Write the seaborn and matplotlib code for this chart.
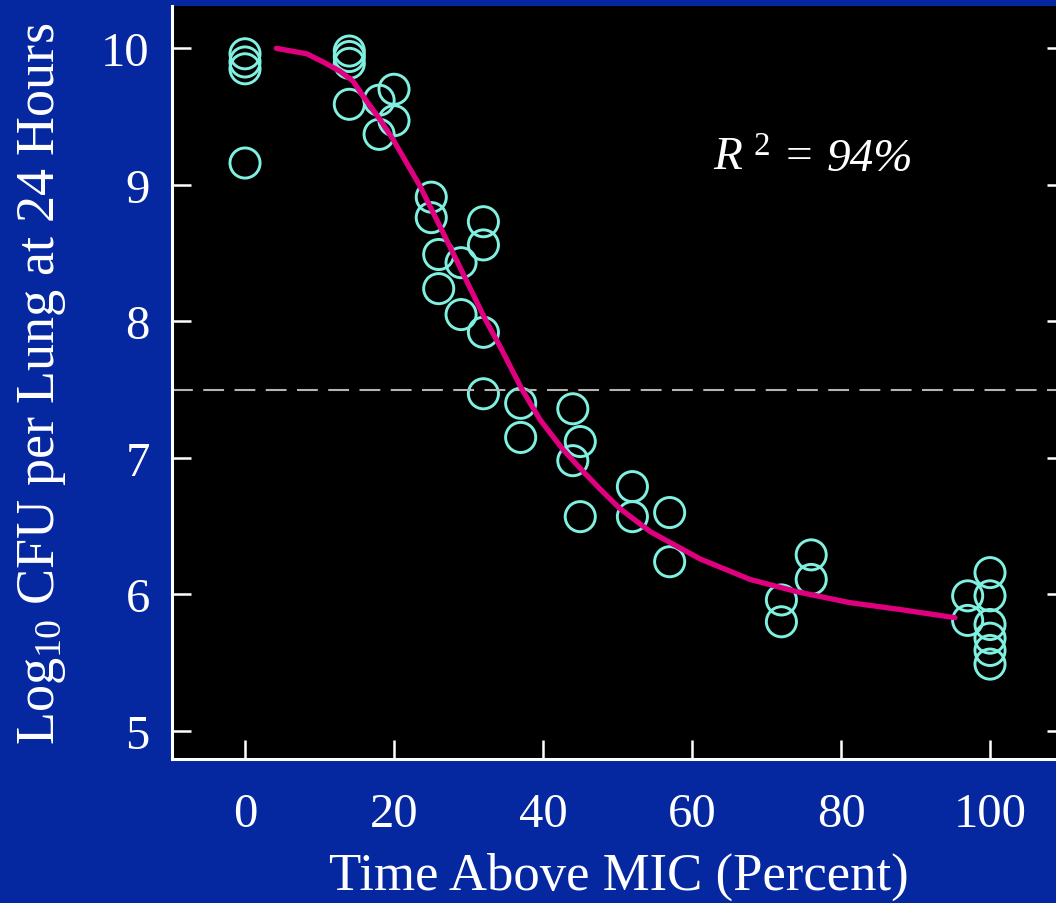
import numpy as np
import pandas as pd
import matplotlib
matplotlib.use("Agg")
import matplotlib.pyplot as plt
import seaborn as sns

# observed points
time_pct = [0, 0, 0, 0, 14, 14, 14, 14, 18, 18, 20, 20, 25, 25, 26, 26, 29, 29,
            32, 32, 32, 32, 37, 37, 44, 44, 45, 45, 52, 52, 57, 57, 72, 72, 76, 76,
            97, 97, 100, 100, 100, 100, 100, 100]
log_cfu = [9.96, 9.90, 9.85, 9.16, 9.98, 9.94, 9.89, 9.59, 9.62, 9.37, 9.70, 9.47,
           8.91, 8.76, 8.49, 8.24, 8.43, 8.05, 8.73, 8.56, 7.92, 7.47, 7.40, 7.15,
           7.36, 6.98, 7.12, 6.57, 6.79, 6.57, 6.60, 6.24, 5.96, 5.80, 6.29, 6.11,
           5.99, 5.81, 6.16, 5.99, 5.78, 5.68, 5.59, 5.49]

# fitted curve
fit_x = [4.2, 8.3, 10.5, 12.8, 14.5, 16.1, 18.1, 19.9, 23.5, 26.4, 29.8, 32.2, 34.2,
         37.2, 39.6, 42.7, 45.4, 47.7, 50.3, 54.4, 61.1, 67.8, 74.1, 81.2, 87.9, 95.3]
fit_y = [10.00, 9.96, 9.90, 9.83, 9.76, 9.63, 9.48, 9.33, 8.99, 8.67, 8.29, 8.02, 7.82,
         7.50, 7.28, 7.06, 6.90, 6.77, 6.63, 6.46, 6.26, 6.11, 6.02, 5.94, 5.89, 5.83]

threshold = 7.5
x_ticks = [0, 20, 40, 60, 80, 100]
y_ticks = [5, 6, 7, 8, 9, 10]

pts = pd.DataFrame({"time": time_pct, "cfu": log_cfu})
fit = pd.DataFrame({"time": fit_x, "cfu": fit_y})

sns.set_style("ticks")
plt.rcParams["font.family"] = ["Liberation Serif", "DejaVu Serif"]
plt.rcParams["mathtext.fontset"] = "custom"
plt.rcParams["mathtext.rm"] = "Liberation Serif"
plt.rcParams["mathtext.it"] = "Liberation Serif:italic"

bg = "#0528a0"
fig = plt.figure(figsize=(10.56, 9.04), dpi=100, facecolor=bg)
ax = fig.add_axes([172 / 1056, 144 / 904, 894 / 1056, 753 / 904])
ax.set_facecolor("black")

ax.axhline(threshold, color="#b4b4b4", lw=1.5, dashes=(10, 5))
sns.lineplot(data=fit, x="time", y="cfu", ax=ax, color="#e0007f", lw=3.8, sort=False)
sns.scatterplot(data=pts, x="time", y="cfu", ax=ax, s=470, facecolor="none",
                edgecolor="#80f0e0", linewidth=2.1)

ax.set_xlim(-9.8, 110.2)
ax.set_ylim(4.795, 10.31)
ax.set_xticks(x_ticks)
ax.set_yticks(y_ticks)

for s in ["top", "right"]:
    ax.spines[s].set_visible(False)
for s in ["left", "bottom"]:
    ax.spines[s].set_color("white")
    ax.spines[s].set_linewidth(2.2)

ax.tick_params(axis="x", direction="in", length=14, width=1.8, colors="white",
               labelsize=35, pad=24)
ax.tick_params(axis="y", direction="in", length=14, width=1.8, colors="white",
               labelsize=35, pad=16, right=True)

ax.set_xlabel("Time Above MIC (Percent)", color="white", fontsize=38, labelpad=11)
ax.set_ylabel(r"Log$_{10}$ CFU per Lung at 24 Hours", color="white", fontsize=39,
              labelpad=24)

ax.text(62.8, 9.11, r"$R^{\ 2}$ =", color="white", fontsize=34, style="italic")
ax.text(78.0, 9.11, "94%", color="white", fontsize=34, style="italic")

fig.savefig("out.png", dpi=100, facecolor=bg)
